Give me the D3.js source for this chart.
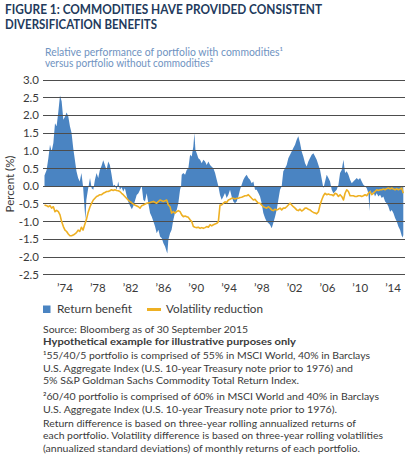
<!DOCTYPE html>
<html><head><meta charset="utf-8">
<script src="https://cdn.jsdelivr.net/npm/d3@7/dist/d3.min.js"></script>
<style>html,body{margin:0;padding:0;background:#fff}svg{display:block}</style>
</head><body><svg id="c" width="410" height="458"></svg>
<script>
const retYears=[1972.0,1972.26,1972.47,1972.67,1972.87,1973.08,1973.28,1973.48,1973.69,1973.89,1974.09,1974.3,1974.5,1974.7,1974.9,1975.1,1975.3,1975.5,1975.7,1975.9,1976.1,1976.3,1976.5,1976.7,1976.9,1977.0,1977.1,1977.3,1977.55,1977.75,1977.95,1978.15,1978.35,1978.55,1978.75,1978.96,1979.16,1979.36,1979.57,1979.77,1979.97,1980.18,1980.38,1980.58,1980.79,1980.99,1981.19,1981.4,1981.6,1981.8,1982.0,1982.2,1982.43,1982.65,1982.85,1983.05,1983.24,1983.45,1983.65,1983.85,1984.05,1984.25,1984.46,1984.66,1984.87,1985.08,1985.28,1985.48,1985.68,1985.89,1986.09,1986.3,1986.5,1986.7,1986.9,1986.98,1987.1,1987.31,1987.5,1987.71,1987.91,1988.12,1988.32,1988.53,1988.65,1988.73,1988.93,1989.14,1989.34,1989.54,1989.75,1989.95,1990.15,1990.28,1990.4,1990.56,1990.76,1990.97,1991.17,1991.37,1991.58,1991.78,1991.98,1992.19,1992.39,1992.59,1992.8,1993.0,1993.2,1993.4,1993.6,1993.81,1994.01,1994.21,1994.42,1994.62,1994.82,1995.03,1995.23,1995.43,1995.64,1995.84,1996.04,1996.25,1996.45,1996.65,1996.86,1997.06,1997.26,1997.47,1997.67,1997.87,1998.08,1998.28,1998.48,1998.68,1998.89,1999.09,1999.29,1999.5,1999.7,1999.9,2000.11,2000.31,2000.51,2000.72,2000.92,2001.12,2001.33,2001.53,2001.73,2001.94,2002.14,2002.34,2002.55,2002.75,2002.95,2003.16,2003.36,2003.56,2003.77,2003.97,2004.17,2004.38,2004.58,2004.79,2004.99,2005.19,2005.4,2005.6,2005.8,2006.01,2006.21,2006.41,2006.62,2006.82,2007.02,2007.23,2007.43,2007.63,2007.84,2008.04,2008.24,2008.45,2008.65,2008.85,2009.06,2009.26,2009.46,2009.66,2009.87,2010.07,2010.27,2010.48,2010.68,2010.88,2011.09,2011.29,2011.5,2011.62,2011.74,2011.86,2012.1,2012.3,2012.51,2012.71,2012.92,2013.12,2013.32,2013.53,2013.73,2013.93,2014.14,2014.34,2014.54,2014.75,2014.95,2015.15,2015.36,2015.56,2015.68,2015.75];
const retValues=[0.30,0.46,0.79,1.17,0.98,1.22,1.78,1.69,2.11,2.56,2.40,1.88,1.97,2.08,1.97,1.69,1.50,1.08,0.75,0.42,0.23,0.13,0.37,0.0,-0.67,-0.95,-0.39,-0.10,0.23,-0.06,-0.10,0.18,0.37,0.23,0.46,0.58,0.73,0.60,0.46,0.70,0.60,0.32,0.01,0.04,-0.10,0.13,-0.10,-0.03,-0.15,-0.06,-0.25,-0.43,-0.55,-0.65,-0.55,-0.40,-0.25,-0.20,-0.10,0.02,-0.38,-0.43,-0.20,-0.48,-0.76,-0.86,-1.00,-1.14,-1.33,-1.23,-1.42,-1.47,-1.61,-1.70,-1.85,-1.90,-1.51,-1.33,-1.23,-0.95,-0.76,-0.67,-0.48,-0.10,0.0,0.32,0.37,0.32,0.46,0.51,0.89,0.84,1.12,1.50,1.03,0.93,0.79,0.75,0.65,0.75,0.70,0.60,0.70,0.60,0.55,0.51,0.37,0.18,0.0,-0.25,-0.38,-0.29,-0.19,-0.33,-0.24,-0.10,-0.29,-0.43,-0.48,-0.43,-0.29,-0.10,0.04,0.18,0.27,0.32,0.23,0.18,0.08,0.13,-0.10,-0.10,-0.19,-0.29,-0.48,-0.76,-0.90,-1.00,-1.04,-1.09,-1.19,-1.04,-0.86,-0.67,-0.39,-0.10,0.0,0.42,0.51,0.60,0.79,0.89,0.98,1.08,1.17,1.31,1.41,1.22,0.98,0.84,0.65,0.56,0.70,0.80,0.89,0.93,0.84,0.75,0.60,0.46,0.20,-0.06,0.13,0.32,0.23,0.13,-0.10,-0.20,-0.15,-0.10,0.04,0.37,0.46,0.75,0.37,0.42,0.32,0.18,0.08,0.13,0.18,0.23,0.18,0.23,0.13,0.04,0.0,-0.06,-0.20,-0.70,-0.10,-0.24,-0.15,-0.29,-0.20,-0.29,-0.24,-0.33,-0.29,-0.43,-0.48,-0.57,-0.72,-0.67,-0.76,-0.90,-1.00,-1.14,-1.24,-1.40,-1.45,-1.38];
const volYears=[1972.0,1972.26,1972.47,1972.67,1972.87,1973.08,1973.28,1973.48,1973.69,1973.89,1974.09,1974.3,1974.5,1974.7,1974.9,1975.1,1975.3,1975.5,1975.7,1975.9,1976.1,1976.3,1976.5,1976.7,1976.9,1977.1,1977.3,1977.55,1977.75,1977.95,1978.15,1978.35,1978.55,1978.75,1978.96,1979.16,1979.36,1979.57,1979.77,1979.97,1980.18,1980.38,1980.58,1980.79,1980.99,1981.19,1981.4,1981.6,1981.8,1982.0,1982.2,1982.4,1982.6,1982.8,1983.0,1983.2,1983.45,1983.65,1983.85,1984.05,1984.46,1984.87,1985.28,1985.68,1986.09,1986.5,1986.9,1987.1,1987.31,1987.5,1987.71,1987.91,1988.12,1988.32,1988.53,1988.73,1988.93,1989.14,1989.34,1989.54,1989.75,1989.95,1990.15,1990.35,1990.56,1990.76,1990.97,1991.17,1991.37,1991.58,1991.78,1991.98,1992.19,1992.39,1992.59,1992.8,1993.0,1993.2,1993.4,1993.6,1993.81,1994.01,1994.21,1994.42,1994.62,1994.82,1995.03,1995.23,1995.43,1995.64,1995.84,1996.04,1996.25,1996.45,1996.65,1996.86,1997.06,1997.26,1997.47,1997.67,1997.87,1998.08,1998.28,1998.48,1998.68,1998.89,1999.09,1999.29,1999.5,1999.7,1999.9,2000.11,2000.31,2000.51,2000.72,2000.92,2001.12,2001.33,2001.53,2001.73,2001.94,2002.14,2002.34,2002.55,2002.75,2002.95,2003.16,2003.36,2003.56,2003.77,2003.97,2004.17,2004.38,2004.58,2004.79,2004.99,2005.19,2005.4,2005.6,2005.8,2006.01,2006.21,2006.41,2006.62,2006.82,2007.02,2007.23,2007.43,2007.63,2007.84,2008.04,2008.24,2008.45,2008.65,2008.85,2009.06,2009.26,2009.46,2009.66,2009.87,2010.07,2010.27,2010.48,2010.68,2010.88,2011.09,2011.29,2011.5,2011.7,2011.9,2012.1,2012.3,2012.51,2012.71,2012.92,2013.12,2013.32,2013.53,2013.73,2013.93,2014.14,2014.34,2014.54,2014.75,2014.95,2015.15,2015.36,2015.56,2015.75];
const volValues=[-0.53,-0.55,-0.58,-0.55,-0.62,-0.58,-0.72,-0.68,-0.72,-0.81,-1.0,-1.14,-1.24,-1.28,-1.35,-1.40,-1.40,-1.38,-1.35,-1.31,-1.24,-1.28,-1.16,-1.24,-1.09,-0.95,-0.76,-0.58,-0.48,-0.39,-0.34,-0.29,-0.27,-0.24,-0.24,-0.20,-0.18,-0.15,-0.15,-0.13,-0.10,-0.12,-0.10,-0.12,-0.13,-0.15,-0.20,-0.24,-0.29,-0.34,-0.39,-0.43,-0.46,-0.50,-0.53,-0.55,-0.58,-0.62,-0.55,-0.53,-0.48,-0.46,-0.43,-0.48,-0.39,-0.43,-0.39,-0.53,-0.58,-0.76,-0.72,-0.76,-0.72,-0.69,-0.72,-0.81,-0.86,-0.84,-0.86,-0.88,-0.95,-1.00,-1.14,-1.16,-1.17,-1.16,-1.19,-1.17,-1.19,-1.17,-1.14,-1.16,-1.09,-1.12,-1.09,-1.07,-1.05,-1.00,-0.53,-0.53,-0.48,-0.44,-0.46,-0.39,-0.37,-0.34,-0.34,-0.36,-0.34,-0.34,-0.32,-0.31,-0.29,-0.27,-0.27,-0.24,-0.29,-0.34,-0.39,-0.37,-0.43,-0.48,-0.48,-0.53,-0.58,-0.60,-0.62,-0.58,-0.62,-0.67,-0.69,-0.65,-0.67,-0.65,-0.62,-0.67,-0.62,-0.62,-0.58,-0.53,-0.48,-0.53,-0.58,-0.62,-0.67,-0.69,-0.65,-0.70,-0.67,-0.62,-0.62,-0.65,-0.67,-0.71,-0.74,-0.76,-0.78,-0.72,-0.53,-0.39,-0.27,-0.20,-0.24,-0.22,-0.24,-0.24,-0.27,-0.20,-0.22,-0.29,-0.24,-0.29,-0.39,-0.20,-0.10,-0.15,-0.27,-0.27,-0.27,-0.29,-0.29,-0.27,-0.27,-0.29,-0.27,-0.24,-0.27,-0.20,-0.15,-0.24,-0.20,-0.15,-0.10,-0.12,-0.10,-0.10,-0.08,-0.10,-0.07,-0.05,-0.08,-0.05,-0.08,-0.10,-0.07,-0.10,-0.08,-0.05,-0.20];
const yTicks=[3.0,2.5,2.0,1.5,1.0,0.5,0.0,-0.5,-1.0,-1.5,-2.0,-2.5];
const xTickYears=[1974,1978,1982,1986,1990,1994,1998,2002,2006,2010,2014];
const xTickLabels=["’74","’78","’82","’86","’90","’94","’98","’02","’06","’10","’14"];
const seriesNames=["Return benefit","Volatility reduction"];
const titleLines=["FIGURE 1: COMMODITIES HAVE PROVIDED CONSISTENT","DIVERSIFICATION BENEFITS"];
const subtitleLines=["Relative performance of portfolio with commodities¹","versus portfolio without commodities²"];
const noteLines=[
 {t:"Source: Bloomberg as of 30 September 2015",w:205},
 {t:"Hypothetical example for illustrative purposes only",w:253,b:true},
 {t:"¹55/40/5 portfolio is comprised of 55% in MSCI World, 40% in Barclays",w:327},
 {t:"U.S. Aggregate Index (U.S. 10-year Treasury note prior to 1976) and",w:310},
 {t:"5% S&P Goldman Sachs Commodity Total Return Index.",w:256},
 {t:"²60/40 portfolio is comprised of 60% in MSCI World and 40% in Barclays",w:336},
 {t:"U.S. Aggregate Index (U.S. 10-year Treasury note prior to 1976).",w:294},
 {t:"Return difference is based on three-year rolling annualized returns of",w:313},
 {t:"each portfolio. Volatility difference is based on three-year rolling volatilities",w:340},
 {t:"(annualized standard deviations) of monthly returns of each portfolio.",w:317}
];
const noteY=[332.5,345,359,371.5,383.5,400,412.5,427,439,451.5];

const FONT="Lato,'Open Sans',sans-serif";
const BLUE="#4a84c2", ORANGE="#eeb023", NAVY="#223a5c", GREY="#3a3a3a";
const svg=d3.select("#c").style("font-family",FONT);
svg.append("rect").attr("width",410).attr("height",458).attr("fill","#fff");

const x=d3.scaleLinear().domain([1972,2015.75]).range([44.5,403.3]);
const y=d3.scaleLinear().domain([-2.5,3.0]).range([274.7,80]);
const gx0=43,gx1=405;

// title
svg.selectAll("text.title").data(titleLines).join("text").attr("class","title")
 .attr("x",5).attr("y",(d,i)=>13.5+i*15.5).attr("fill",NAVY)
 .attr("font-size",13.5).attr("font-weight","bold")
 .attr("textLength",(d,i)=>i?152:317).attr("lengthAdjust","spacingAndGlyphs").text(d=>d);

// subtitle
svg.selectAll("text.sub").data(subtitleLines).join("text").attr("class","sub")
 .attr("x",45).attr("y",(d,i)=>55.5+i*11).attr("fill","#6f93c1").attr("font-size",10.5)
 .attr("textLength",(d,i)=>i?168:238).attr("lengthAdjust","spacingAndGlyphs").text(d=>d);

// area
const retData=retYears.map((t,i)=>({t,v:retValues[i]}));
const volData=volYears.map((t,i)=>({t,v:volValues[i]}));
svg.append("path").datum(retData).attr("fill",BLUE)
 .attr("d",d3.area().x(d=>x(d.t)).y0(y(0)).y1(d=>y(d.v)));

// grid
svg.selectAll("line.grid").data(yTicks).join("line").attr("class","grid")
 .attr("x1",gx0).attr("x2",gx1).attr("y1",d=>y(d)).attr("y2",d=>y(d))
 .attr("stroke","#4d4d4d").attr("stroke-width",1).attr("shape-rendering","crispEdges");

// line
svg.append("path").datum(volData).attr("fill","none").attr("stroke",ORANGE).attr("stroke-width",1.6)
 .attr("stroke-linejoin","round")
 .attr("d",d3.line().x(d=>x(d.t)).y(d=>y(d.v)));

// y labels
svg.selectAll("text.yl").data(yTicks).join("text").attr("class","yl")
 .attr("x",39).attr("y",d=>y(d)).attr("dy","0.35em").attr("text-anchor","end")
 .attr("font-size",11.5).attr("fill",GREY).text(d=>d.toFixed(1));
svg.append("text").attr("transform","translate(14,184) rotate(-90)").attr("text-anchor","middle")
 .attr("font-size",11.5).attr("fill",GREY).text("Percent (%)");

// x labels
svg.selectAll("text.xl").data(xTickYears).join("text").attr("class","xl")
 .attr("x",d=>x(d+0.5)).attr("y",292).attr("text-anchor","middle")
 .attr("font-size",11.5).attr("fill",GREY).text((d,i)=>xTickLabels[i]);

// legend
svg.append("rect").attr("x",43).attr("y",305.5).attr("width",7.5).attr("height",7.5).attr("fill",BLUE);
svg.append("text").attr("x",57).attr("y",313).attr("font-size",11.5).attr("fill",GREY)
 .attr("textLength",75).attr("lengthAdjust","spacingAndGlyphs").text(seriesNames[0]);
svg.append("line").attr("x1",147).attr("x2",161).attr("y1",309.5).attr("y2",309.5).attr("stroke",ORANGE).attr("stroke-width",3);
svg.append("text").attr("x",166).attr("y",313).attr("font-size",11.5).attr("fill",GREY)
 .attr("textLength",97).attr("lengthAdjust","spacingAndGlyphs").text(seriesNames[1]);

// notes
svg.selectAll("text.note").data(noteLines).join("text").attr("class","note")
 .attr("x",43).attr("y",(d,i)=>noteY[i]).attr("font-size",10).attr("fill",GREY)
 .attr("font-weight",d=>d.b?"bold":null)
 .attr("textLength",d=>d.w).attr("lengthAdjust","spacingAndGlyphs").text(d=>d.t);
</script></body></html>
